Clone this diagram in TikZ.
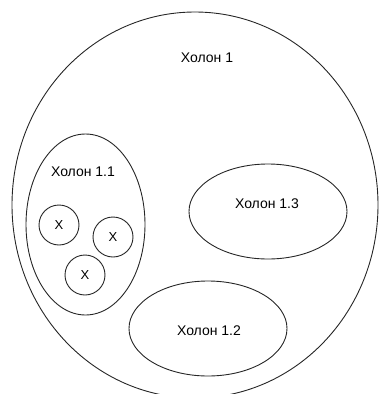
\documentclass[tikz,border=0pt]{standalone}
\usepackage{fontspec}
\setmainfont{Liberation Sans}
\usetikzlibrary{shapes.geometric,positioning}
\tikzset{
  holon/.style={ellipse,draw=black!85,line width=0.9pt,inner sep=0pt},
  holonlbl/.style={font=\fontsize{14}{16}\selectfont,inner sep=1pt},
  agent/.style={circle,draw=black!85,line width=0.9pt,minimum size=40pt,
    inner sep=0pt,font=\fontsize{13}{15}\selectfont},
}

\begin{document}
\begin{tikzpicture}[x=1pt,y=-1pt]
  \useasboundingbox (0,0) rectangle (379,394);
  \node[holon,minimum width=366pt,minimum height=386pt] (h1) at (195,205) {};
  \node[holonlbl] (l1) at (207,58) {Холон 1};
  % holon 1.1 with its three parts
  \node[holon,minimum width=119pt,minimum height=181pt] (h11) at (85.5,224.5) {};
  \node[holonlbl] (l11) at (83,172) {Холон 1.1};
  \foreach \i/\x/\y in {1/59/225,2/113/237,3/85/275}{
    \node[agent] (a\i) at (\x,\y) {X};
  }
  \node[holon,minimum width=158pt,minimum height=95pt] (h13) at (268,211.5) {};
  \node[holonlbl] (l13) at (267,204) {Холон 1.3};
  \node[holon,minimum width=158pt,minimum height=95pt] (h12) at (208,328.5) {};
  \node[holonlbl] (l12) at (209,331) {Холон 1.2};
\end{tikzpicture}
\end{document}
